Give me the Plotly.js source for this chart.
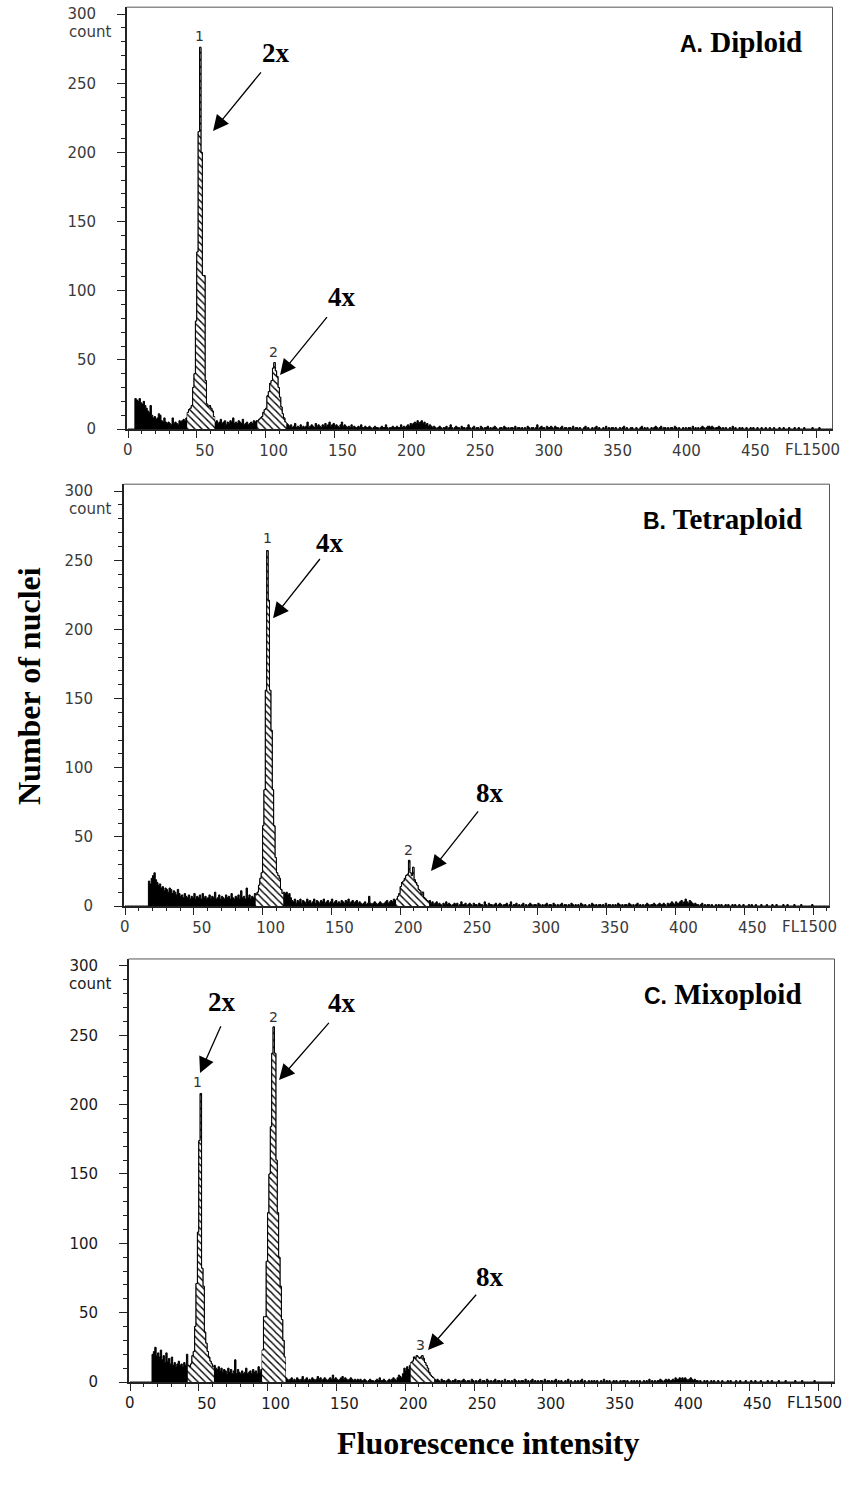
<!DOCTYPE html>
<html>
<head>
<meta charset="utf-8">
<script src="https://cdn.plot.ly/plotly-3.0.1.min.js"></script>
<style>html,body{margin:0;padding:0;background:#fff}#chart{width:846px;height:1486px}</style>
</head>
<body>
<div id="chart"></div>
<script>
// ---- DATA: counts per FL1 channel (0..511) ----
const countsA = [
  0,0,0,0,0,22,21,20,22,19,18,20,17,15,13,12,
  17,10,8,9,7,8,11,10,6,5,8,5,4,5,4,3,
  8,4,5,4,3,6,5,6,7,6,8,12,14,15,17,30,
  40,78,128,215,276,200,111,111,35,18,16,17,15,13,9,5,
  6,4,5,7,4,5,6,3,5,4,6,5,8,4,5,4,
  6,5,4,7,3,4,5,3,4,5,4,6,5,6,6,7,
  8,9,12,14,15,24,27,33,35,44,48,42,38,30,23,16,
  11,8,5,4,3,2,3,1,2,4,1,2,1,3,1,2,
  1,2,5,1,2,3,2,1,4,2,3,2,1,3,2,4,
  2,3,5,2,3,4,2,3,2,1,3,5,2,3,2,1,
  2,1,3,1,2,1,1,2,1,3,1,1,2,1,1,2,
  1,0,1,2,1,1,0,1,2,1,1,3,1,0,1,1,
  2,1,1,2,1,1,3,1,2,1,2,3,2,4,3,4,
  5,4,6,4,5,6,4,5,3,4,2,3,2,1,2,1,
  0,1,2,1,0,1,1,2,0,1,3,1,0,1,2,1,
  1,0,2,1,1,0,1,3,1,0,1,2,0,1,1,0,
  2,1,0,1,1,2,0,1,0,1,2,1,0,0,1,1,
  0,2,1,0,1,0,1,1,0,2,0,1,1,0,1,0,
  1,0,2,1,0,1,1,0,1,3,0,1,2,1,1,0,
  2,1,1,2,1,0,2,1,1,0,1,2,0,1,1,0,
  1,1,0,2,0,1,1,0,1,0,0,1,2,0,1,0,
  0,1,0,1,2,0,1,0,0,1,0,2,0,1,0,1,
  1,0,1,0,0,1,0,1,2,0,1,0,0,1,1,0,
  0,1,0,0,1,2,0,1,0,1,0,0,1,0,1,2,
  1,0,1,2,0,1,1,0,1,0,1,1,0,2,1,0,
  1,0,0,1,0,1,0,1,1,0,2,0,1,0,1,0,
  1,2,1,0,1,2,2,1,2,1,0,1,1,2,1,0,
  1,0,1,0,0,1,0,2,0,1,0,0,1,0,1,0,
  0,1,0,0,1,0,1,0,0,1,0,0,1,0,0,1,
  0,0,1,0,0,1,0,0,0,1,0,0,1,0,0,0,
  1,0,0,0,1,0,0,1,0,0,0,1,0,0,0,0,
  0,1,0,0,0,0,1,0,0,0,0,0,0,0,0,0
];
const countsB = [
  0,0,0,0,0,0,0,0,0,0,0,0,0,0,0,0,
  0,18,16,20,22,24,19,17,15,16,13,14,11,13,12,10,
  13,12,9,11,10,8,12,9,7,8,6,9,7,6,8,5,
  7,6,9,5,7,6,8,5,9,6,7,5,6,8,5,7,
  6,10,5,6,8,5,7,6,5,8,6,7,5,9,6,5,
  7,6,8,5,11,6,7,5,13,6,8,5,7,6,9,8,
  10,15,20,24,58,84,156,257,221,156,127,84,58,35,24,22,
  20,12,9,10,9,10,8,9,6,4,3,5,2,4,3,5,
  2,4,3,2,5,3,4,2,3,5,2,4,3,2,4,3,
  5,2,3,4,2,3,5,2,3,4,2,3,2,4,3,2,
  4,3,5,2,3,4,2,3,4,2,3,2,1,2,3,1,
  2,7,2,1,2,3,2,1,2,3,2,1,2,3,4,2,
  3,4,3,5,4,5,7,9,14,17,18,20,22,23,33,24,
  22,28,19,17,15,12,11,8,10,6,5,4,3,4,2,3,
  1,2,3,1,2,1,0,2,1,3,1,2,1,0,1,2,
  1,2,0,1,3,1,1,2,0,1,2,1,0,2,1,1,
  0,2,1,1,0,3,1,0,2,1,1,0,1,2,0,1,
  2,1,0,1,1,2,0,1,3,0,1,1,2,0,1,0,
  1,2,0,1,0,1,2,1,0,1,1,0,2,1,0,1,
  0,1,2,0,1,1,0,2,1,0,1,0,1,2,0,1,
  1,0,1,0,2,1,0,1,0,1,0,2,1,0,1,0,
  0,1,0,2,1,0,1,0,1,1,0,1,0,2,0,1,
  1,0,1,0,1,0,2,1,0,1,0,1,1,0,2,1,
  0,1,0,1,2,0,1,0,1,0,1,2,1,0,1,1,
  2,1,0,1,2,1,1,2,1,0,2,1,2,3,2,1,
  3,2,2,3,4,2,3,5,3,2,4,3,2,1,2,1,
  1,0,1,2,0,1,0,1,1,0,1,0,0,1,0,1,
  0,1,0,0,1,0,1,0,0,1,0,1,0,0,1,0,
  0,1,0,0,0,1,0,1,0,0,1,0,0,0,1,0,
  0,0,1,0,0,0,1,0,0,1,0,0,0,0,1,0,
  0,1,0,0,0,0,1,0,0,0,0,1,0,0,0,0,
  0,0,0,1,0,0,0,0,0,0,0,0,0,0,0,0
];
const countsC = [
  0,0,0,0,0,0,0,0,0,0,0,0,0,0,0,0,
  20,22,25,19,21,18,23,16,19,14,21,15,17,13,18,12,
  14,11,13,15,12,13,11,14,12,20,12,11,13,19,22,40,
  71,108,174,208,82,69,36,28,22,18,15,13,11,12,10,9,
  11,8,10,7,9,8,6,10,7,9,6,8,16,6,9,7,
  6,8,6,7,10,6,7,8,6,9,7,8,6,11,7,9,
  23,47,47,87,122,150,184,237,256,237,160,122,90,69,45,30,
  18,3,2,1,2,3,1,2,1,3,2,1,2,4,1,2,
  3,1,2,1,3,2,1,2,4,2,3,1,2,3,2,1,
  2,3,2,5,2,3,2,1,2,3,4,2,3,2,1,2,
  3,2,1,2,1,2,1,2,1,1,2,1,0,1,2,1,
  1,0,1,2,1,3,1,1,2,1,0,1,2,1,2,3,
  2,1,3,5,4,3,6,10,8,11,9,12,14,15,18,17,
  19,18,17,18,19,17,14,12,10,7,5,4,3,2,1,2,
  1,0,2,1,1,0,1,2,1,0,1,1,2,0,1,1,
  0,1,2,1,0,1,1,0,2,1,0,1,0,1,2,0,
  1,1,0,2,1,0,1,0,1,2,0,1,1,0,1,0,
  2,0,1,1,0,1,0,2,1,0,1,0,1,1,0,2,
  0,1,0,1,2,0,1,0,1,0,1,1,0,2,0,1,
  1,0,1,0,1,2,0,1,0,1,0,0,1,0,2,0,
  1,0,0,1,0,1,0,1,2,0,1,0,0,1,0,1,
  0,1,0,1,0,0,1,0,2,0,1,0,1,0,0,1,
  0,1,0,0,1,0,1,1,0,1,0,0,1,0,1,0,
  1,0,1,0,0,1,0,1,0,2,0,1,0,1,0,1,
  1,2,1,0,1,2,1,2,1,1,2,1,3,2,2,3,
  2,3,2,3,2,1,2,3,2,1,2,1,1,0,1,0,
  0,1,0,1,0,0,1,0,1,0,0,1,0,0,1,0,
  0,0,1,0,1,0,0,0,1,0,0,1,0,0,0,1,
  0,0,0,1,0,0,1,0,0,0,1,0,0,0,0,1,
  0,0,1,0,0,0,0,1,0,0,0,0,1,0,0,0,
  0,0,0,1,0,0,0,0,1,0,0,0,0,0,0,0,
  0,1,0,0,0,0,0,0,0,0,0,0,0,0,0,0
];
// gated (hatched) peak regions, [first channel, last channel]
const gatesA = [[43,62],[94,114]];
const gatesB = [[95,114],[197,220]];
const gatesC = [[42,60],[96,112],[204,220]];
// tick labels (the end labels at channel 0 and 500 are written separately)
const xTickVals = [0,50,100,150,200,250,300,350,400,450,500];
const xTickText = ['','50','100','150','200','250','300','350','400','450',''];
const axisStartLabel = '0';
const axisEndLabel = 'FL1500';
// panel titles
const panelLetters = ['A.','B.','C.'];
const panelNames = ['Diploid','Tetraploid','Mixoploid'];
// peak labels: [panel, text, channel, count]
const peakLabels = [
  [0,'1',51.6,284],[0,'2',106,56],
  [1,'1',103.2,266],[1,'2',205.7,40.5],
  [2,'1',49.4,216],[2,'2',104,263],[2,'3',210.8,26.7]
];
// ploidy arrows: [panel, text, tipCh, tipCount, tailCh, tailCount, textCh, textCount]
const ploidyArrows = [
  [0,'2x',61.8,215.5, 97.5,259,  107.6,272],
  [0,'4x',110.5,39,   145.5,82,  155.5,95.4],
  [1,'4x',107.6,208,  142.5,252, 149,262.5],
  [1,'8x',222.4,25.3, 257.5,69.5, 265,81.7],
  [2,'2x',50.9,222.8, 66.5,257.5, 66.9,274],
  [2,'4x',108.3,217.7, 145.5,260, 154,273],
  [2,'8x',216.6,23,   252.5,64,  261.6,75.7]
];

// ---- LAYOUT GEOMETRY (pixels) ----
const W = 846, H = 1486;
const geo = [
  {x0:128, y0:429, sx:1.376, sy:1.383, tc:'#3a3a3a'},
  {x0:125, y0:906, sx:1.376, sy:1.383, tc:'#3a3a3a'},
  {x0:130, y0:1382, sx:1.376, sy:1.387, tc:'#1a1a1a'}
];
const XMIN = -1, XMAX = 512, YMAX = 305;
const counts = [countsA, countsB, countsC];
const gates = [gatesA, gatesB, gatesC];
const sfx = ['', '2', '3'];

function stepXY(c, a, b) {
  const x = [], y = [];
  for (let i = a; i <= b; i++) { x.push(i); y.push(c[i]); }
  x.push(b + 1); y.push(c[b]);
  return {x, y};
}

const data = [];
const layout = {
  width: W, height: H,
  margin: {l:0, r:0, t:0, b:0},
  paper_bgcolor: '#fff', plot_bgcolor: 'rgba(0,0,0,0)',
  showlegend: false,
  annotations: [], shapes: []
};
const px = v => v / W;
const py = v => 1 - v / H;

for (let p = 0; p < 3; p++) {
  const g = geo[p], s = sfx[p];
  const L = g.x0 + XMIN * g.sx, R = g.x0 + XMAX * g.sx;
  const top = g.y0 - YMAX * g.sy, bot = g.y0;
  const c = counts[p];
  const all = stepXY(c, 0, c.length - 1);
  data.push({
    type:'scatter', mode:'lines', x: all.x, y: all.y,
    line:{shape:'hv', color:'#000', width:1},
    fill:'tozeroy', fillcolor:'#000',
    xaxis:'x'+s, yaxis:'y'+s, hoverinfo:'skip'
  });
  gates[p].forEach(gt => {
    const seg = stepXY(c, gt[0], gt[1]);
    data.push({
      type:'scatter', mode:'lines', x: seg.x, y: seg.y,
      line:{shape:'hv', color:'#000', width:1},
      fill:'tozeroy', fillcolor:'#fff',
      fillpattern:{shape:'\\', fgcolor:'#000', bgcolor:'#fff', size:5, solidity:0.28},
      xaxis:'x'+s, yaxis:'y'+s, hoverinfo:'skip'
    });
  });
  const tf = {family:'DejaVu Sans', size:15, color:g.tc};
  layout['xaxis'+s] = {
    domain:[px(L), px(R)], range:[XMIN, XMAX], anchor:'y'+s,
    tickmode:'array', tickvals:xTickVals, ticktext:xTickText,
    ticks:'outside', ticklen:7, tickwidth:1, tickcolor:'#222',
    minor:{tickmode:'linear', tick0:0, dtick:10, ticks:'outside', ticklen:3, tickwidth:1, tickcolor:'#222'},
    showline:true, linecolor:'#222', linewidth:1.5,
    showgrid:false, zeroline:false, fixedrange:true,
    ticklabelshift:8,
    tickfont:tf
  };
  layout['yaxis'+s] = {
    domain:[py(bot), py(top)], range:[0, YMAX], anchor:'x'+s,
    tickmode:'linear', tick0:0, dtick:50,
    ticks:'outside', ticklen:8, tickwidth:1, tickcolor:'#222',
    minor:{tickmode:'linear', tick0:0, dtick:10, ticks:'outside', ticklen:4, tickwidth:1, tickcolor:'#222'},
    showline:true, linecolor:'#222', linewidth:1.5,
    showgrid:false, zeroline:false, fixedrange:true,
    ticklabelstandoff:18,
    tickfont:tf
  };
  // top/right frame
  layout.shapes.push({type:'line', xref:'paper', yref:'paper', x0:px(L), x1:px(R), y0:py(top), y1:py(top), line:{color:'#555', width:1}});
  layout.shapes.push({type:'line', xref:'paper', yref:'paper', x0:px(R), x1:px(R), y0:py(top), y1:py(bot), line:{color:'#555', width:1}});
  // axis end labels at channel 0 and 500
  layout.annotations.push({xref:'x'+s, yref:'paper', x:0, y:py(bot + 21), xanchor:'center', yanchor:'middle',
    text:axisStartLabel, showarrow:false, font:tf});
  layout.annotations.push({xref:'x'+s, yref:'paper', x:500, y:py(bot + 21), xanchor:'center', yanchor:'middle',
    xshift:-4, text:axisEndLabel, showarrow:false, font:tf});
  // "count" under 300
  layout.annotations.push({xref:'paper', yref:'paper', x:px(67), y:py(g.y0 - 300*g.sy + 18), xanchor:'left', yanchor:'middle',
    text:'count', showarrow:false, font:tf});
  // panel title
  layout.annotations.push({xref:'paper', yref:'paper', x:px(804), y:py(top + 35), xanchor:'right', yanchor:'middle',
    text:'<b><span style="font-family:Liberation Sans,Arial;font-size:23px">' + panelLetters[p] + '</span> ' + panelNames[p] + '</b>',
    showarrow:false, font:{family:'Liberation Serif', size:29, color:'#000'}});
}

peakLabels.forEach(l => {
  const s = sfx[l[0]];
  layout.annotations.push({xref:'x'+s, yref:'y'+s, x:l[2], y:l[3], text:l[1], showarrow:false,
    xanchor:'center', yanchor:'middle', font:{family:'DejaVu Sans', size:14, color:'#333'}});
});
ploidyArrows.forEach(a => {
  const p = a[0], s = sfx[p];
  layout.annotations.push({xref:'x'+s, yref:'y'+s, x:a[2], y:a[3], text:'', showarrow:true,
    axref:'x'+s, ayref:'y'+s, ax:a[4], ay:a[5],
    arrowhead:2, arrowsize:2.4, arrowwidth:1.3, arrowcolor:'#000'});
  layout.annotations.push({xref:'x'+s, yref:'y'+s, x:a[6], y:a[7], text:'<b>'+a[1]+'</b>', showarrow:false,
    xanchor:'center', yanchor:'middle', font:{family:'Liberation Serif', size:27, color:'#000'}});
});
// axis titles
layout.annotations.push({xref:'paper', yref:'paper', x:px(29), y:py(686), text:'<b>Number of nuclei</b>', textangle:-90,
  showarrow:false, xanchor:'center', yanchor:'middle', font:{family:'Liberation Serif', size:32, color:'#000'}});
layout.annotations.push({xref:'paper', yref:'paper', x:px(488), y:py(1443), text:'<b>Fluorescence intensity</b>',
  showarrow:false, xanchor:'center', yanchor:'middle', font:{family:'Liberation Serif', size:32, color:'#000'}});

Plotly.newPlot('chart', data, layout, {staticPlot:true, displayModeBar:false});
</script>
</body>
</html>
